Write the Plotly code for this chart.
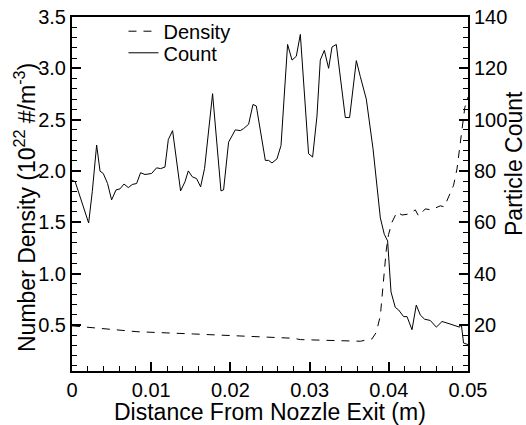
import plotly.graph_objects as go

# Particle count (right axis)
count_x = [0.0, 0.0004, 0.0021, 0.00256, 0.00311, 0.00354, 0.00395, 0.00449, 0.0050, 0.00556,
           0.00606, 0.00657, 0.00711, 0.00761, 0.00816, 0.00866, 0.00922, 0.01005, 0.01068, 0.01119,
           0.01174, 0.01216, 0.0127, 0.01371, 0.01427, 0.01468, 0.01519, 0.01573, 0.01624, 0.01674,
           0.01775, 0.01881, 0.01914, 0.01977, 0.02062, 0.02125, 0.02167, 0.0223, 0.02285, 0.02327,
           0.02441, 0.02482, 0.02525, 0.02588, 0.02639, 0.02722, 0.02778, 0.02832, 0.02883, 0.02987,
           0.03038, 0.03093, 0.03135, 0.03186, 0.0324, 0.03283, 0.03337, 0.03451, 0.03505, 0.0359,
           0.0364, 0.03716, 0.03801, 0.03893, 0.03943, 0.03985, 0.04028, 0.04082, 0.04124, 0.04187,
           0.0423, 0.04293, 0.04347, 0.04398, 0.04452, 0.04524, 0.046, 0.04672, 0.04735, 0.04831,
           0.04894, 0.04915, 0.04944, 0.05]
count_y = [76.4, 75.8, 59.7, 71.9, 90.1, 79.9, 79.0, 75.1, 68.7, 72.6,
           73.0, 74.9, 73.5, 74.7, 75.1, 79.3, 78.6, 79.0, 81.2, 80.9,
           81.5, 92.2, 95.7, 72.2, 75.8, 80.0, 77.7, 77.0, 73.8, 81.0,
           110.1, 72.2, 72.6, 91.2, 96.0, 95.7, 96.5, 98.2, 105.9, 105.3,
           84.1, 84.1, 83.1, 84.7, 89.9, 129.3, 123.2, 124.7, 133.2, 86.7,
           85.4, 101.4, 123.2, 127.0, 120.0, 128.3, 129.3, 100.8, 100.8, 123.0,
           116.8, 108.0, 88.6, 61.7, 55.3, 52.7, 32.8, 26.8, 25.8, 23.2,
           23.2, 18.1, 27.7, 23.8, 22.2, 21.7, 19.1, 21.3, 20.7, 19.6,
           19.1, 20.3, 12.9, 12.3]

# Number density (left axis)
dens_x = [0.0, 0.00821, 0.01532, 0.01957, 0.02798, 0.02883, 0.0364, 0.03788, 0.03842, 0.03893,
          0.03934, 0.03968, 0.03997, 0.0404, 0.04104, 0.04167, 0.0425, 0.04335, 0.04376, 0.04461,
          0.04537, 0.0465, 0.04701, 0.04818, 0.04861, 0.04924, 0.0496, 0.05]
dens_y = [0.49, 0.433, 0.411, 0.395, 0.369, 0.356, 0.34, 0.363, 0.427, 0.588,
          0.925, 1.23, 1.38, 1.5, 1.6, 1.57, 1.58, 1.62, 1.56, 1.63,
          1.62, 1.66, 1.65, 1.86, 2.02, 2.37, 2.62, 2.72]

x_tickvals = [0, 0.01, 0.02, 0.03, 0.04, 0.05]
x_ticktext = ["0", "0.01", "0.02", "0.03", "0.04", "0.05"]
left_tickvals = [0.5, 1.0, 1.5, 2.0, 2.5, 3.0, 3.5]
right_tickvals = [20, 40, 60, 80, 100, 120, 140]

x_title = "Distance From Nozzle Exit (m)"
left_title = "Number Density (10<sup>22</sup> #/m<sup>-3</sup>)"
right_title = "Particle Count"

FONT = "Liberation Sans, Arial, Helvetica, sans-serif"
TFONT = dict(family=FONT, size=23, color="black")
LFONT = dict(family=FONT, size=20, color="black")

fig = go.Figure()
fig.add_trace(go.Scatter(x=dens_x, y=dens_y, mode="lines", name="Density", legend="legend",
                         line=dict(color="black", width=1, dash="8px,7px"), yaxis="y"))
fig.add_trace(go.Scatter(x=count_x, y=count_y, mode="lines", name="Count", legend="legend2",
                         line=dict(color="black", width=1), yaxis="y2"))

axis_common = dict(showgrid=False, zeroline=False, showline=True, linecolor="black",
                   linewidth=2, ticks="inside", tickcolor="black", tickwidth=2, ticklen=9,
                   automargin=False, ticklabeloverflow="allow",
                   tickfont=dict(family=FONT, size=20, color="black"))

fig.update_layout(
    width=526, height=425,
    margin=dict(l=72, r=58, t=13, b=54),
    paper_bgcolor="white", plot_bgcolor="white",
    font=dict(family=FONT, size=20, color="black"),
    showlegend=True,
    legend=dict(x=0.130, y=1.015, xanchor="left", yanchor="top",
                bgcolor="rgba(0,0,0,0)", font=LFONT, itemwidth=30),
    legend2=dict(x=0.130, y=0.954, xanchor="left", yanchor="top",
                 bgcolor="rgba(0,0,0,0)", font=LFONT, itemwidth=30),
    xaxis=dict(range=[0, 0.05], tickvals=x_tickvals, ticktext=x_ticktext,
               mirror=True,
               minor=dict(dtick=0.002, ticklen=5, ticks="inside", tickcolor="black", tickwidth=1),
               **axis_common),
    yaxis=dict(range=[0.05, 3.5], tickvals=left_tickvals, tickformat=".1f",
               minor=dict(dtick=0.1, ticklen=5, ticks="inside", tickcolor="black", tickwidth=1),
               **axis_common),
    yaxis2=dict(range=[2, 140], tickvals=right_tickvals, overlaying="y", side="right",
                minor=dict(dtick=4, ticklen=5, ticks="inside", tickcolor="black", tickwidth=1),
                **axis_common),
    annotations=[
        dict(text=x_title, xref="paper", yref="paper", x=0.5, y=0, xanchor="center",
             yanchor="middle", yshift=-41, showarrow=False, font=TFONT),
        dict(text=left_title, xref="paper", yref="paper", x=0, y=0.5, xanchor="center",
             yanchor="middle", xshift=-47, yshift=-14, textangle=-90, showarrow=False, font=TFONT),
        dict(text=right_title, xref="paper", yref="paper", x=1, y=0.5, xanchor="center",
             yanchor="middle", xshift=46, yshift=30, textangle=-90, showarrow=False, font=TFONT),
    ],
)

fig.write_html("out.html", config={"displayModeBar": False},
               post_script="document.body.style.margin='0';")
